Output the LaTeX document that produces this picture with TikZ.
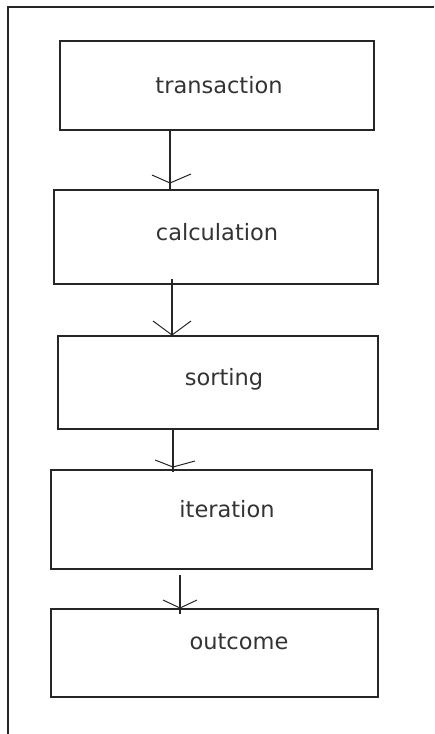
\documentclass[tikz,border=0pt]{standalone}
\usepackage{fontspec}
\setmainfont{DejaVu Sans}
\usetikzlibrary{calc}
\begin{document}
\begin{tikzpicture}[x=1pt,y=-1pt,
  ln/.style={draw=black!85,line width=1.3pt},
  box/.style={ln,rectangle,inner sep=0pt,outer sep=0pt},
  lbl/.style={anchor=base,inner sep=0pt,text=black!80,font=\fontsize{22.5}{26}\selectfont},
  vhead/.style={ln,line width=1pt}]
\useasboundingbox (0,0) rectangle (434,734);
% outer frame (top and left only)
\coordinate (ftl) at (8,7);
\coordinate (ftr) at (434,7);
\coordinate (fbl) at (8,734);
\draw[ln] (ftr) -- (ftl) -- (fbl);
% boxes
\node[box,minimum width=314,minimum height=89] (b1) at (217,85.5) {};
\node[box,minimum width=324,minimum height=94] (b2) at (216,237) {};
\node[box,minimum width=320,minimum height=93] (b3) at (218,382.5) {};
\node[box,minimum width=321,minimum height=99] (b4) at (211.5,519.5) {};
\node[box,minimum width=327,minimum height=88] (b5) at (214.5,653) {};
% labels
\node[lbl] (t1) at (219,93) {transaction};
\node[lbl] (t2) at (217,240) {calculation};
\node[lbl] (t3) at (224,385) {sorting};
\node[lbl] (t4) at (227,517) {iteration};
\node[lbl] (t5) at (239,649) {outcome};
% arrow tip points
\coordinate (p1) at (170,183);
\coordinate (p2) at (172,335);
\coordinate (p3) at (173,467);
\coordinate (p4) at (180,608);
% connectors
\draw[ln] (b1.south -| p1) -- (b2.north -| p1);
\draw[ln] ($(b2.south -| p2)+(0,-5)$) -- ($(b3.north -| p2)+(0,1)$);
\draw[ln] (b3.south -| p3) -- ($(b4.north -| p3)+(0,2)$);
\draw[ln] ($(b4.south -| p4)+(0,6)$) -- ($(b5.north -| p4)+(0,5)$);
\draw[vhead] ($(p1)+(-18,-8)$) -- (p1) -- ($(p1)+(21,-9)$);
\draw[vhead] ($(p2)+(-19,-14)$) -- (p2) -- ($(p2)+(19,-14)$);
\draw[vhead] ($(p3)+(-18,-7)$) -- (p3) -- ($(p3)+(22,-6)$);
\draw[vhead] ($(p4)+(-17,-8)$) -- (p4) -- ($(p4)+(17,-8)$);
\end{tikzpicture}
\end{document}
